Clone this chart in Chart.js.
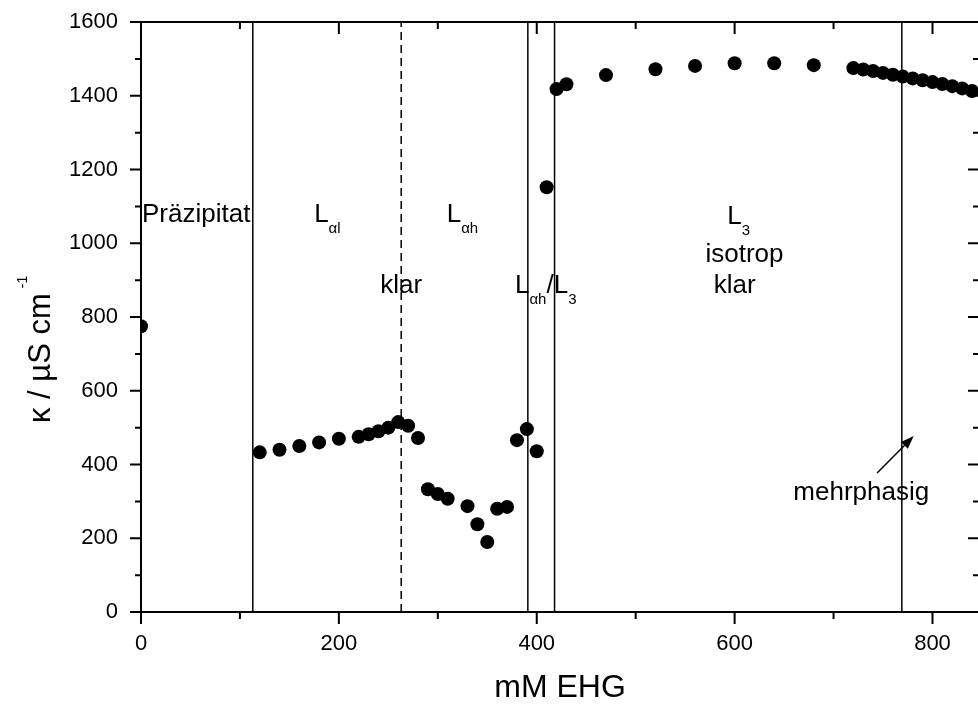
<!DOCTYPE html>
<html>
<head>
<meta charset="utf-8">
<script src="https://cdn.jsdelivr.net/npm/chart.js@4/dist/chart.umd.min.js"></script>
<style>
  html, body { margin: 0; padding: 0; overflow: hidden; background: #fff; }
  #wrap { position: relative; width: 986px; height: 704px; }
</style>
</head>
<body>
<div id="wrap"><canvas id="chart"></canvas></div>
<script>
// conductivity vs. EHG concentration
const ehg = [0, 120, 140, 160, 180, 200, 220, 230, 240, 250, 260, 270, 280, 290, 300, 310,
  330, 340, 350, 360, 370, 380, 390, 400, 410, 420, 430, 470, 520, 560, 600, 640, 680,
  720, 730, 740, 750, 760, 770, 780, 790, 800, 810, 820, 830, 840]
const kappa = [775, 433, 440, 450, 460, 470, 475, 482, 490, 500, 515, 505, 472, 333, 320, 307,
  287, 238, 190, 280, 285, 466, 496, 436, 1152, 1418, 1431, 1456, 1472, 1481, 1488, 1488, 1483,
  1475, 1471, 1467, 1462, 1457, 1452, 1447, 1442, 1437, 1432, 1426, 1420, 1413]

// phase boundaries (solid) and the clear/turbid boundary (dashed)
const phaseLines = [113, 391, 418, 769]
const clearLine = 263

const xMajorTicks = [0, 200, 400, 600, 800]
const xMinorTicks = [100, 300, 500, 700]
const yMajorTicks = [0, 200, 400, 600, 800, 1000, 1200, 1400, 1600]
const yMinorTicks = [100, 300, 500, 700, 900, 1100, 1300, 1500]

const FONT = '"Liberation Sans", Arial, sans-serif'

// region labels, anchored in data units
const regionLabels = [
  { x: 1, y: 1058, parts: [{ t: 'Präzipitat' }] },
  { x: 175, y: 1058, parts: [{ t: 'L' }, { t: 'αl', sub: true }] },
  { x: 309, y: 1058, parts: [{ t: 'L' }, { t: 'αh', sub: true }] },
  { x: 263, y: 865, center: true, parts: [{ t: 'klar' }] },
  { x: 378, y: 866, parts: [{ t: 'L' }, { t: 'αh', sub: true }, { t: '/' }, { t: 'L' }, { t: '3', sub: true }] },
  { x: 604, y: 1052, center: true, parts: [{ t: 'L' }, { t: '3', sub: true }] },
  { x: 610, y: 949, center: true, parts: [{ t: 'isotrop' }] },
  { x: 600, y: 865, center: true, parts: [{ t: 'klar' }] },
  { x: 728, y: 304, center: true, parts: [{ t: 'mehrphasig' }] }
]
const arrowFrom = [744, 377]
const arrowTo = [781, 477]

function drawParts(ctx, x, y, item) {
  const size = 26
  const subSize = 15
  let w = 0
  item.parts.forEach(p => {
    ctx.font = (p.sub ? subSize : size) + 'px ' + FONT
    p.w = ctx.measureText(p.t).width
    w += p.w
  })
  let cx = item.center ? x - w / 2 : x
  item.parts.forEach(p => {
    ctx.font = (p.sub ? subSize : size) + 'px ' + FONT
    ctx.fillText(p.t, cx, p.sub ? y + 11 : y)
    cx += p.w
  })
}

const framePlugin = {
  id: 'frame',
  afterDatasetsDraw(chart) {
    const ctx = chart.ctx
    const xs = chart.scales.x
    const ys = chart.scales.y
    const { left, right, top, bottom } = chart.chartArea
    ctx.save()
    ctx.strokeStyle = '#000'
    ctx.lineWidth = 2
    ctx.strokeRect(left, top, right - left, bottom - top)

    ctx.beginPath()
    const xTick = (v, len) => {
      const px = xs.getPixelForValue(v)
      ctx.moveTo(px, bottom); ctx.lineTo(px, bottom + len)
      ctx.moveTo(px, top); ctx.lineTo(px, top + len)
    }
    const yTick = (v, len) => {
      const py = ys.getPixelForValue(v)
      ctx.moveTo(left, py); ctx.lineTo(left - len, py)
      ctx.moveTo(right, py); ctx.lineTo(right - len, py)
    }
    xMajorTicks.forEach(v => xTick(v, 12))
    xMinorTicks.forEach(v => xTick(v, 7))
    yMajorTicks.forEach(v => yTick(v, 11))
    yMinorTicks.forEach(v => yTick(v, 6))
    ctx.stroke()

    // texts inside the plot
    ctx.fillStyle = '#000'
    ctx.textBaseline = 'alphabetic'
    ctx.textAlign = 'left'
    regionLabels.forEach(item => {
      drawParts(ctx, xs.getPixelForValue(item.x), ys.getPixelForValue(item.y), item)
    })

    // arrow pointing into the two-phase region
    const x0 = xs.getPixelForValue(arrowFrom[0]), y0 = ys.getPixelForValue(arrowFrom[1])
    const x1 = xs.getPixelForValue(arrowTo[0]), y1 = ys.getPixelForValue(arrowTo[1])
    const ang = Math.atan2(y1 - y0, x1 - x0)
    ctx.lineWidth = 1.5
    ctx.beginPath()
    ctx.moveTo(x0, y0)
    ctx.lineTo(x1 - 10 * Math.cos(ang), y1 - 10 * Math.sin(ang))
    ctx.stroke()
    ctx.beginPath()
    ctx.moveTo(x1, y1)
    ctx.lineTo(x1 - 14 * Math.cos(ang - 0.35), y1 - 14 * Math.sin(ang - 0.35))
    ctx.lineTo(x1 - 14 * Math.cos(ang + 0.35), y1 - 14 * Math.sin(ang + 0.35))
    ctx.closePath()
    ctx.fill()

    // y axis title with superscript
    const midY = (top + bottom) / 2
    ctx.translate(left - 91, midY + 106)
    ctx.rotate(-Math.PI / 2)
    ctx.font = '31px ' + FONT
    const main = 'κ / µS cm'
    ctx.fillText(main, 0, 0)
    const mw = ctx.measureText(main).width
    ctx.font = '14px ' + FONT
    ctx.fillText('-1', mw + 5, -23)
    ctx.restore()
  }
}

const vLine = (x, dashed) => ({
  type: 'line',
  data: [{ x: x, y: 0 }, { x: x, y: 1600 }],
  borderColor: '#000',
  borderWidth: 1.5,
  borderDash: dashed ? [8, 5] : [],
  pointRadius: 0,
  clip: 0
})

new Chart(document.getElementById('chart'), {
  type: 'scatter',
  data: {
    datasets: [
      {
        data: ehg.map((x, i) => ({ x: x, y: kappa[i] })),
        pointRadius: 7,
        pointBackgroundColor: '#000',
        pointBorderWidth: 0,
        clip: { left: 0, top: 0, bottom: 0, right: 10 }
      },
      ...phaseLines.map(x => vLine(x, false)),
      vLine(clearLine, true)
    ]
  },
  options: {
    responsive: true,
    maintainAspectRatio: false,
    animation: false,
    devicePixelRatio: 1,
    layout: { padding: { top: 22, right: 4, left: 0, bottom: 0 } },
    plugins: { legend: { display: false }, tooltip: { enabled: false } },
    scales: {
      x: {
        type: 'linear',
        min: 0,
        max: 847,
        grid: { display: false, drawTicks: false },
        border: { display: false },
        afterBuildTicks: s => { s.ticks = xMajorTicks.map(v => ({ value: v })) },
        afterFit: s => { s.height = 92; s.paddingLeft = 0; s.paddingRight = 0 },
        ticks: { color: '#000', font: { family: FONT, size: 22 }, padding: 19, maxRotation: 0 },
        title: {
          display: true,
          text: 'mM EHG',
          color: '#000',
          font: { family: FONT, size: 32, lineHeight: 1 },
          padding: 0
        }
      },
      y: {
        min: 0,
        max: 1600,
        grid: { display: false, drawTicks: false },
        border: { display: false },
        afterBuildTicks: s => { s.ticks = yMajorTicks.map(v => ({ value: v })) },
        afterFit: s => { s.width = 141; s.paddingTop = 0; s.paddingBottom = 0 },
        ticks: {
          color: '#000',
          font: { family: FONT, size: 22 },
          padding: 23,
          callback: v => String(v)
        }
      }
    }
  },
  plugins: [framePlugin]
})
</script>
</body>
</html>
